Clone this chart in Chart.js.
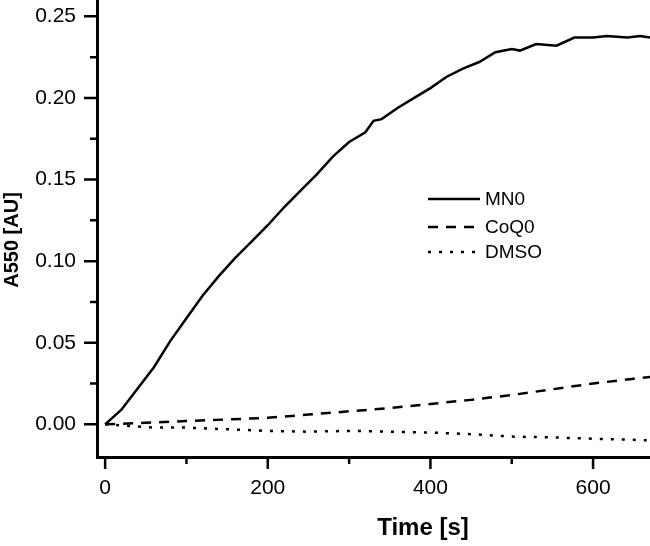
<!DOCTYPE html>
<html>
<head>
<meta charset="utf-8">
<script src="https://cdn.jsdelivr.net/npm/chart.js@4.4.1/dist/chart.umd.min.js"></script>
<style>
  html, body { margin: 0; padding: 0; background: #fff; }
  canvas { display: block; }
</style>
</head>
<body>
<canvas id="absorbance" width="650" height="546"></canvas>
<script>
// values
const mnTime = [0, 20, 40, 60, 80, 100, 120, 140, 160, 180, 200, 220, 240, 260, 280, 300, 320, 330, 340, 360, 380, 400, 420, 440, 460, 480, 500, 510, 530, 555, 577, 600, 617, 642, 658, 670];
const mnValues = [0, 0.009, 0.022, 0.035, 0.051, 0.065, 0.079, 0.091, 0.102, 0.112, 0.122, 0.133, 0.143, 0.153, 0.164, 0.173, 0.179, 0.186, 0.187, 0.194, 0.200, 0.206, 0.213, 0.218, 0.222, 0.228, 0.230, 0.229, 0.233, 0.232, 0.237, 0.237, 0.238, 0.237, 0.238, 0.237];

const coqTime = [0, 50, 100, 150, 200, 250, 300, 350, 400, 450, 500, 550, 600, 650, 670];
const coqValues = [0, 0.001, 0.002, 0.003, 0.004, 0.006, 0.008, 0.010, 0.0125, 0.015, 0.018, 0.0215, 0.025, 0.028, 0.029];

const dmsoTime = [0, 30, 60, 100, 150, 200, 250, 300, 350, 400, 450, 500, 550, 600, 650, 670];
const dmsoValues = [0, -0.001, -0.002, -0.002, -0.003, -0.004, -0.0045, -0.004, -0.0045, -0.005, -0.006, -0.0075, -0.008, -0.0088, -0.0095, -0.0098];

const seriesNames = ['MN0', 'CoQ0', 'DMSO'];

const xTicks = [0, 200, 400, 600];
const xMinor = [100, 300, 500];
const yTicks = [0, 0.05, 0.10, 0.15, 0.20, 0.25];
const yMinor = [0.025, 0.075, 0.125, 0.175, 0.225];

function points(xs, ys) {
  return xs.map(function (x, i) { return { x: x, y: ys[i] }; });
}

const FONT = '"Liberation Sans", Arial, sans-serif';

// tick marks (major + minor) drawn outside the plot, axis titles, legend
const extras = {
  id: 'extras',
  afterDraw(chart) {
    const ctx = chart.ctx;
    const xs = chart.scales.x, ys = chart.scales.y;
    const area = chart.chartArea;
    ctx.save();
    ctx.strokeStyle = '#000';
    ctx.lineWidth = 2.5;
    ctx.beginPath();
    yTicks.forEach(function (v) {
      const p = ys.getPixelForValue(v);
      ctx.moveTo(area.left - 13, p); ctx.lineTo(area.left, p);
    });
    yMinor.forEach(function (v) {
      const p = ys.getPixelForValue(v);
      ctx.moveTo(area.left - 7, p); ctx.lineTo(area.left, p);
    });
    xTicks.forEach(function (v) {
      const p = xs.getPixelForValue(v);
      ctx.moveTo(p, area.bottom); ctx.lineTo(p, area.bottom + 12);
    });
    xMinor.forEach(function (v) {
      const p = xs.getPixelForValue(v);
      ctx.moveTo(p, area.bottom); ctx.lineTo(p, area.bottom + 7);
    });
    ctx.stroke();

    ctx.fillStyle = '#000';
    ctx.textAlign = 'center';
    ctx.textBaseline = 'middle';
    ctx.font = 'bold 24px ' + FONT;
    ctx.fillText('Time [s]', 423, 528);
    ctx.translate(12, 240);
    ctx.rotate(-Math.PI / 2);
    ctx.font = 'bold 20px ' + FONT;
    ctx.fillText('A550 [AU]', 0, 0);
    ctx.restore();

    ctx.save();
    ctx.font = '19px ' + FONT;
    ctx.textBaseline = 'middle';
    ctx.fillStyle = '#000';
    const rows = [199, 227, 252];
    chart.data.datasets.forEach(function (ds, i) {
      ctx.beginPath();
      ctx.strokeStyle = '#000';
      ctx.lineWidth = ds.borderWidth;
      ctx.setLineDash(ds.borderDash || []);
      ctx.moveTo(428, rows[i]);
      ctx.lineTo(480, rows[i]);
      ctx.stroke();
      ctx.setLineDash([]);
      ctx.fillText(ds.label, 485, rows[i] + 1);
    });
    ctx.restore();
  }
};

new Chart(document.getElementById('absorbance'), {
  type: 'line',
  data: {
    datasets: [
      { label: seriesNames[0], data: points(mnTime, mnValues), borderColor: '#000', borderWidth: 2.5, pointRadius: 0, tension: 0 },
      { label: seriesNames[1], data: points(coqTime, coqValues), borderColor: '#000', borderWidth: 2.5, borderDash: [10, 8], pointRadius: 0, tension: 0 },
      { label: seriesNames[2], data: points(dmsoTime, dmsoValues), borderColor: '#000', borderWidth: 2.5, borderDash: [3, 8], pointRadius: 0, tension: 0 }
    ]
  },
  options: {
    responsive: false,
    animation: false,
    layout: { padding: 0 },
    plugins: {
      legend: { display: false },
      tooltip: { enabled: false }
    },
    scales: {
      x: {
        type: 'linear',
        min: -10,
        max: 670,
        afterBuildTicks: function (scale) { scale.ticks = xTicks.map(function (v) { return { value: v }; }); },
        afterFit: function (scale) { scale.height = 89; scale.paddingLeft = 0; scale.paddingRight = 0; },
        grid: { display: false },
        border: { display: true, color: '#000', width: 3 },
        ticks: { color: '#000', padding: 11, maxRotation: 0, font: { family: FONT, size: 21 } }
      },
      y: {
        min: -0.02,
        max: 0.26,
        afterBuildTicks: function (scale) { scale.ticks = yTicks.map(function (v) { return { value: v }; }); },
        afterFit: function (scale) { scale.width = 97; scale.paddingTop = 0; scale.paddingBottom = 0; },
        grid: { display: false },
        border: { display: true, color: '#000', width: 3 },
        ticks: {
          color: '#000', padding: 13, font: { family: FONT, size: 21 },
          callback: function (v) { return v.toFixed(2); }
        }
      }
    }
  },
  plugins: [extras]
});
</script>
</body>
</html>
